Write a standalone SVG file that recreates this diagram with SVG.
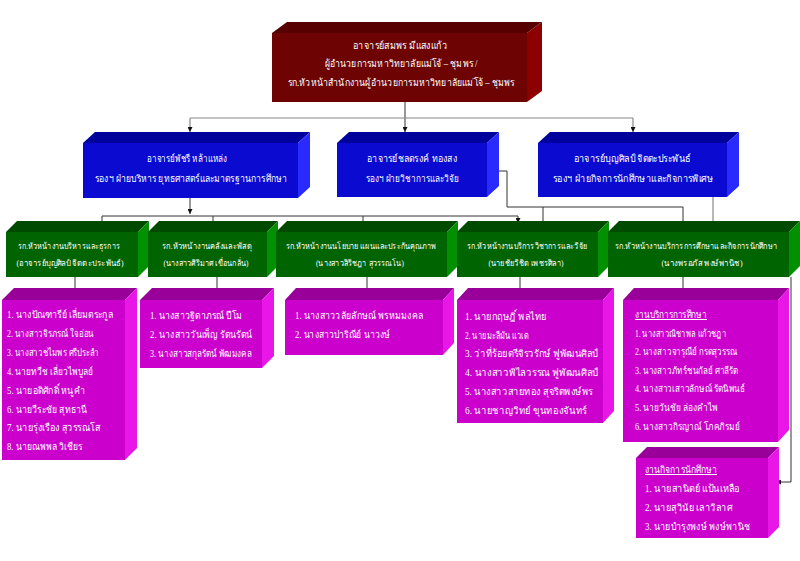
<svg xmlns="http://www.w3.org/2000/svg" width="800" height="561" viewBox="0 0 800 561">
<defs>
<style>
text{font-family:"Liberation Serif","Noto Sans",serif;font-size:10px;fill:#ffffff}
.green text{font-size:8.6px}
.c{text-anchor:middle}
.e{text-anchor:end}
.u{text-decoration:underline}
.red .f{fill:#6e0303}.red .t{fill:#560000}.red .r{fill:#8c0000}
.blue .f{fill:#0a0ad0}.blue .t{fill:#00009c}.blue .r{fill:#2a2aff}
.green .f{fill:#006400}.green .t{fill:#004a00}.green .r{fill:#009000}
.mag .f{fill:#cc00cc}.mag .t{fill:#990099}.mag .r{fill:#e817e8}
.ln{fill:none;stroke:#333333;stroke-width:1}
.lg{fill:none;stroke:#888888;stroke-width:1.2}
</style>
<marker id="ah" viewBox="0 0 10 10" refX="10" refY="5" markerWidth="5" markerHeight="5" orient="auto" markerUnits="userSpaceOnUse">
<path d="M0,0 L10,5 L0,10 z" fill="#111111"/>
</marker>
</defs>
<rect width="800" height="561" fill="#ffffff"/>

<g id="connectors">
<path class="ln" d="M405,102 V132" marker-end="url(#ah)"/>
<path class="lg" d="M190,118 H633"/>
<path class="lg" d="M190,118 V132" marker-end="url(#ah)"/>
<path class="lg" d="M633,118 V132" marker-end="url(#ah)"/>
<path class="ln" d="M190,198 V214" marker-end="url(#ah)"/>
<path class="ln" d="M102,216 H518"/>
<path class="ln" d="M102,216 V231" marker-end="url(#ah)"/>
<path class="ln" d="M213,216 V231" marker-end="url(#ah)"/>
<path class="ln" d="M363,216 V231" marker-end="url(#ah)"/>
<path class="ln" d="M518,216 V223" marker-end="url(#ah)"/>
<path class="ln" d="M487,171 H507 V207 H683"/>
<path class="ln" d="M543,207 V231" marker-end="url(#ah)"/>
<path class="ln" d="M683,207 V231" marker-end="url(#ah)"/>
<path class="lg" d="M713,197 V231" marker-end="url(#ah)"/>
<path class="ln" d="M75,277 V293" marker-end="url(#ah)"/>
<path class="ln" d="M217,277 V293" marker-end="url(#ah)"/>
<path class="ln" d="M367,277 V293" marker-end="url(#ah)"/>
<path class="ln" d="M520,277 V293" marker-end="url(#ah)"/>
<path class="ln" d="M683,277 V293" marker-end="url(#ah)"/>
<path class="ln" d="M791,277 V482 H776" marker-end="url(#ah)"/>
</g>

<g id="director" class="red">
<polygon class="t" points="272,33 287,22 542,22 527,33"/>
<polygon class="r" points="527,33 542,22 542,91 527,102"/>
<rect class="f" x="272" y="33" width="255" height="69"/>
<text class="c" x="400" y="49" textLength="94" lengthAdjust="spacingAndGlyphs">อาจารย์สมพร มีแสงแก้ว</text>
<text class="c" x="401" y="67" textLength="153" lengthAdjust="spacingAndGlyphs">ผู้อำนวยการมหาวิทยาลัยแม่โจ้ – ชุมพร /</text>
<text class="c" x="401" y="86" textLength="227" lengthAdjust="spacingAndGlyphs">รก.หัวหน้าสำนักงานผู้อำนวยการมหาวิทยาลัยแม่โจ้ – ชุมพร</text>
</g>

<g id="vp1" class="blue">
<polygon class="t" points="83,143 95,132 310,132 298,143"/>
<polygon class="r" points="298,143 310,132 310,187 298,198"/>
<rect class="f" x="83" y="143" width="215" height="55"/>
<text class="c" x="187" y="162" textLength="80" lengthAdjust="spacingAndGlyphs">อาจารย์พัชรี หล้าแหล่ง</text>
<text class="c" x="191" y="182" textLength="192" lengthAdjust="spacingAndGlyphs">รองฯ ฝ่ายบริหาร ยุทธศาสตร์และมาตรฐานการศึกษา</text>
</g>

<g id="vp2" class="blue">
<polygon class="t" points="337,143 349,132 499,132 487,143"/>
<polygon class="r" points="487,143 499,132 499,186 487,197"/>
<rect class="f" x="337" y="143" width="150" height="54"/>
<text class="c" x="412" y="162" textLength="90" lengthAdjust="spacingAndGlyphs">อาจารย์ชลดรงค์ ทองสง</text>
<text class="c" x="412" y="182" textLength="93" lengthAdjust="spacingAndGlyphs">รองฯ ฝ่ายวิชาการและวิจัย</text>
</g>

<g id="vp3" class="blue">
<polygon class="t" points="538,143 550,132 739,132 727,143"/>
<polygon class="r" points="727,143 739,132 739,186 727,197"/>
<rect class="f" x="538" y="143" width="189" height="54"/>
<text class="c" x="632" y="162" textLength="117" lengthAdjust="spacingAndGlyphs">อาจารย์บุญศิลป์ จิตตะประพันธ์</text>
<text class="c" x="633" y="182" textLength="160" lengthAdjust="spacingAndGlyphs">รองฯ ฝ่ายกิจการนักศึกษาและกิจการพิเศษ</text>
</g>

<g id="unit1" class="green">
<polygon class="t" points="6,232 17,221 149,221 138,232"/>
<polygon class="r" points="138,232 149,221 149,266 138,277"/>
<rect class="f" x="6" y="232" width="132" height="45"/>
<text class="c" x="69" y="249" textLength="102" lengthAdjust="spacingAndGlyphs">รก.หัวหน้างานบริหารและธุรการ</text>
<text class="c" x="70" y="266" textLength="107" lengthAdjust="spacingAndGlyphs">(อาจารย์บุญศิลป์ จิตตะประพันธ์)</text>
</g>

<g id="unit2" class="green">
<polygon class="t" points="148,232 159,221 278,221 267,232"/>
<polygon class="r" points="267,232 278,221 278,266 267,277"/>
<rect class="f" x="148" y="232" width="119" height="45"/>
<text class="c" x="207" y="249" textLength="90" lengthAdjust="spacingAndGlyphs">รก.หัวหน้างานคลังและพัสดุ</text>
<text class="c" x="206" y="266" textLength="85" lengthAdjust="spacingAndGlyphs">(นางสาวศิริมาศ เขื่อนกลั่น)</text>
</g>

<g id="unit3" class="green">
<polygon class="t" points="276,232 287,221 458,221 447,232"/>
<polygon class="r" points="447,232 458,221 458,266 447,277"/>
<rect class="f" x="276" y="232" width="171" height="45"/>
<text class="c" x="361" y="249" textLength="151" lengthAdjust="spacingAndGlyphs">รก.หัวหน้างานนโยบาย แผนและประกันคุณภาพ</text>
<text class="c" x="360" y="266" textLength="88" lengthAdjust="spacingAndGlyphs">(นางสาวสิริชฎา สุวรรณโน)</text>
</g>

<g id="unit4" class="green">
<polygon class="t" points="457,232 468,221 609,221 598,232"/>
<polygon class="r" points="598,232 609,221 609,266 598,277"/>
<rect class="f" x="457" y="232" width="141" height="45"/>
<text class="c" x="527" y="249" textLength="120" lengthAdjust="spacingAndGlyphs">รก.หัวหน้างานบริการวิชาการและวิจัย</text>
<text class="c" x="526" y="266" textLength="75" lengthAdjust="spacingAndGlyphs">(นายชัยวิชิต เพชรศิลา)</text>
</g>

<g id="unit5" class="green">
<polygon class="t" points="608,232 619,221 800,221 789,232"/>
<polygon class="r" points="789,232 800,221 800,266 789,277"/>
<rect class="f" x="608" y="232" width="181" height="45"/>
<text class="e" x="777" y="249" textLength="162" lengthAdjust="spacingAndGlyphs">รก.หัวหน้างานบริการการศึกษาและกิจการนักศึกษา</text>
<text class="c" x="702" y="266" textLength="81" lengthAdjust="spacingAndGlyphs">(นางพรอภัส พงษ์พานิช)</text>
</g>

<g id="staff1" class="mag">
<polygon class="t" points="2,300 14,288 137,288 125,300"/>
<polygon class="r" points="125,300 137,288 137,448 125,460"/>
<rect class="f" x="2" y="300" width="123" height="160"/>
<text x="7" y="318" textLength="106" lengthAdjust="spacingAndGlyphs">1. นางปัณฑารีย์ เลี่ยมตระกูล</text>
<text x="7" y="337" textLength="87" lengthAdjust="spacingAndGlyphs">2. นางสาวจิรภรณ์ ใจอ่อน</text>
<text x="7" y="356" textLength="92" lengthAdjust="spacingAndGlyphs">3. นางสาวชไมพร ศรีประลำ</text>
<text x="7" y="375" textLength="86" lengthAdjust="spacingAndGlyphs">4. นายทวีช เลี่ยวไพบูลย์</text>
<text x="7" y="394" textLength="78" lengthAdjust="spacingAndGlyphs">5. นายอดิศักดิ์ หนูคำ</text>
<text x="7" y="413" textLength="80" lengthAdjust="spacingAndGlyphs">6. นายวีระชัย สุทธานี</text>
<text x="7" y="431" textLength="93" lengthAdjust="spacingAndGlyphs">7. นายรุ่งเรือง สุวรรณโส</text>
<text x="7" y="450" textLength="75" lengthAdjust="spacingAndGlyphs">8. นายณพพล วิเชียร</text>
</g>

<g id="staff2" class="mag">
<polygon class="t" points="140,300 152,288 274,288 262,300"/>
<polygon class="r" points="262,300 274,288 274,356 262,368"/>
<rect class="f" x="140" y="300" width="122" height="68"/>
<text x="150" y="319" textLength="92" lengthAdjust="spacingAndGlyphs">1. นางสาวฐิดาภรณ์ ปีโม</text>
<text x="150" y="338" textLength="102" lengthAdjust="spacingAndGlyphs">2. นางสาววันเพ็ญ รัตนรัตน์</text>
<text x="150" y="357" textLength="102" lengthAdjust="spacingAndGlyphs">3. นางสาวสกุลรัตน์ พัฒมงคล</text>
</g>

<g id="staff3" class="mag">
<polygon class="t" points="285,300 296,288 454,288 443,300"/>
<polygon class="r" points="443,300 454,288 454,343 443,355"/>
<rect class="f" x="285" y="300" width="158" height="55"/>
<text x="295" y="319" textLength="128" lengthAdjust="spacingAndGlyphs">1. นางสาววลัยลักษณ์ พรหมมงคล</text>
<text x="295" y="338" textLength="95" lengthAdjust="spacingAndGlyphs">2. นางสาวปาริณีย์ นาวงษ์</text>
</g>

<g id="staff4" class="mag">
<polygon class="t" points="457,300 468,288 614,288 603,300"/>
<polygon class="r" points="603,300 614,288 614,411 603,423"/>
<rect class="f" x="457" y="300" width="146" height="123"/>
<text x="465" y="320" textLength="82" lengthAdjust="spacingAndGlyphs">1. นายกฤษฎิ์ พลไทย</text>
<text x="465" y="339" textLength="63" lengthAdjust="spacingAndGlyphs">2. นายมะลีมัน แวเด</text>
<text x="465" y="357" textLength="133" lengthAdjust="spacingAndGlyphs">3. ว่าที่ร้อยตรีจิรวรักษ์ ฟูพัฒนศิลป์</text>
<text x="465" y="376" textLength="133" lengthAdjust="spacingAndGlyphs">4. นางสาวพิไลวรรณ ฟูพัฒนศิลป์</text>
<text x="465" y="395" textLength="128" lengthAdjust="spacingAndGlyphs">5. นางสาวสายทอง สุจริตพงษ์พร</text>
<text x="465" y="414" textLength="122" lengthAdjust="spacingAndGlyphs">6. นายชาญวิทย์ ขุนทองจันทร์</text>
</g>

<g id="staff5" class="mag">
<polygon class="t" points="623,300 634,288 789,288 778,300"/>
<polygon class="r" points="778,300 789,288 789,430 778,442"/>
<rect class="f" x="623" y="300" width="155" height="142"/>
<text class="u" x="635" y="318" textLength="72" lengthAdjust="spacingAndGlyphs">งานบริการการศึกษา</text>
<text x="635" y="337" textLength="91" lengthAdjust="spacingAndGlyphs">1. นางสาวณิชาพล แก้วชฎา</text>
<text x="635" y="355" textLength="102" lengthAdjust="spacingAndGlyphs">2. นางสาวจารุณีย์ กรดสุวรรณ</text>
<text x="635" y="374" textLength="103" lengthAdjust="spacingAndGlyphs">3. นางสาวภัทร์ชนกัลย์ ศาลีรัต</text>
<text x="635" y="392" textLength="110" lengthAdjust="spacingAndGlyphs">4. นางสาวเสาวลักษณ์ รัตนิพนธ์</text>
<text x="635" y="411" textLength="83" lengthAdjust="spacingAndGlyphs">5. นายวันชัย ล่องคำไพ</text>
<text x="635" y="430" textLength="105" lengthAdjust="spacingAndGlyphs">6. นางสาวกิรญาณ์ โภคภิรมย์</text>
</g>

<g id="staff6" class="mag">
<polygon class="t" points="636,458 647,447 779,447 768,458"/>
<polygon class="r" points="768,458 779,447 779,527 768,538"/>
<rect class="f" x="636" y="458" width="132" height="80"/>
<text class="u" x="645" y="473" textLength="72" lengthAdjust="spacingAndGlyphs">งานกิจการนักศึกษา</text>
<text x="645" y="492" textLength="95" lengthAdjust="spacingAndGlyphs">1. นายสานิตย์ แป้นเหลือ</text>
<text x="645" y="511" textLength="87" lengthAdjust="spacingAndGlyphs">2. นายสุวินัย เลาวิลาศ</text>
<text x="645" y="530" textLength="105" lengthAdjust="spacingAndGlyphs">3. นายบำรุงพงษ์ พงษ์พานิช</text>
</g>
</svg>
